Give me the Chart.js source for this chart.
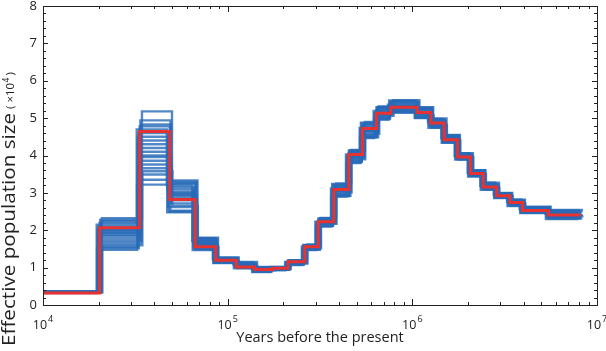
<!DOCTYPE html>
<html lang="en">
<head>
<meta charset="UTF-8">
<title>Effective population size</title>
<script src="https://cdn.jsdelivr.net/npm/chart.js"></script>
<style>
  html, body { margin: 0; padding: 0; background: #fff; }
  #wrap { width: 606px; height: 351px; position: relative; }
</style>
</head>
<body>
<div id="wrap"><canvas id="psmcChart"></canvas></div>
<script>
// step edges, years before present (first one lies left of the axis and gets clipped)
var stepEdges = [9000, 20240, 33340, 48500, 66650, 86100, 111400, 140000, 174700, 212100,
  261400, 309500, 375600, 453000, 537300, 639700, 764300, 1061000, 1259000, 1487000,
  1757000, 2066000, 2419000, 2860000, 3376000, 3954000, 5447000, 8166000];

// main estimate, Ne in units of 10^4
var mainNe = [0.32, 2.07, 4.64, 2.82, 1.56, 1.20, 1.02, 0.95, 0.98, 1.16, 1.56, 2.23, 3.09,
  4.03, 4.72, 5.13, 5.29, 5.15, 4.87, 4.42, 3.96, 3.52, 3.16, 2.92, 2.74, 2.53, 2.41];

// bootstrap replicates
var boot01 = [0.36, 2.32, 5.18, 3.33, 1.80, 1.27, 1.15, 1.02, 1.02, 1.20, 1.62, 2.33, 3.25, 4.15, 4.90, 5.31, 5.48, 5.29, 4.99, 4.55, 4.06, 3.61, 3.27, 3.00, 2.82, 2.63, 2.54];
var boot02 = [0.32, 1.48, 3.22, 2.48, 1.47, 1.12, 0.98, 0.88, 0.93, 1.07, 1.47, 2.10, 2.90, 3.80, 4.47, 4.96, 5.14, 5.00, 4.74, 4.34, 3.89, 3.44, 3.08, 2.86, 2.65, 2.46, 2.30];
var boot03 = [0.35, 2.28, 4.94, 3.30, 1.78, 1.25, 1.12, 0.99, 1.00, 1.18, 1.60, 2.30, 3.20, 4.12, 4.85, 5.28, 5.45, 5.26, 4.96, 4.52, 4.04, 3.59, 3.24, 2.98, 2.80, 2.61, 2.51];
var boot04 = [0.33, 1.52, 3.35, 2.50, 1.50, 1.14, 1.00, 0.90, 0.95, 1.09, 1.49, 2.13, 2.95, 3.84, 4.50, 5.00, 5.18, 5.03, 4.77, 4.36, 3.91, 3.46, 3.10, 2.88, 2.67, 2.48, 2.33];
var boot05 = [0.36, 2.24, 4.83, 3.27, 1.76, 1.24, 1.10, 0.98, 0.99, 1.17, 1.58, 2.27, 3.17, 4.09, 4.81, 5.25, 5.42, 5.24, 4.94, 4.50, 4.02, 3.57, 3.22, 2.97, 2.79, 2.60, 2.49];
var boot06 = [0.34, 1.56, 3.49, 2.62, 1.53, 1.15, 1.02, 0.92, 0.96, 1.10, 1.51, 2.15, 2.98, 3.87, 4.55, 5.03, 5.21, 5.05, 4.79, 4.38, 3.93, 3.48, 3.12, 2.89, 2.69, 2.50, 2.35];
var boot07 = [0.35, 2.20, 4.78, 3.24, 1.74, 1.23, 1.09, 0.97, 0.99, 1.16, 1.57, 2.25, 3.15, 4.06, 4.78, 5.22, 5.39, 5.21, 4.92, 4.48, 4.00, 3.55, 3.20, 2.95, 2.77, 2.58, 2.47];
var boot08 = [0.34, 1.60, 3.58, 2.66, 1.55, 1.16, 1.03, 0.93, 0.96, 1.11, 1.52, 2.17, 3.01, 3.90, 4.58, 5.06, 5.24, 5.07, 4.81, 4.40, 3.95, 3.50, 3.14, 2.91, 2.71, 2.52, 2.37];
var boot09 = [0.35, 2.15, 4.70, 3.20, 1.72, 1.22, 1.08, 0.96, 0.98, 1.15, 1.56, 2.23, 3.12, 4.03, 4.74, 5.19, 5.36, 5.18, 4.90, 4.47, 3.99, 3.54, 3.19, 2.94, 2.76, 2.57, 2.45];
var boot10 = [0.34, 1.66, 3.66, 2.72, 1.57, 1.17, 1.04, 0.94, 0.97, 1.12, 1.53, 2.19, 3.04, 3.93, 4.62, 5.09, 5.27, 5.10, 4.83, 4.42, 3.96, 3.51, 3.16, 2.92, 2.72, 2.53, 2.39];
var boot11 = [0.35, 2.10, 4.60, 3.16, 1.70, 1.21, 1.07, 0.96, 0.98, 1.14, 1.55, 2.22, 3.10, 4.00, 4.71, 5.16, 5.33, 5.16, 4.88, 4.46, 3.98, 3.53, 3.18, 2.93, 2.75, 2.56, 2.44];
var boot12 = [0.34, 1.72, 3.76, 2.80, 1.60, 1.18, 1.05, 0.94, 0.97, 1.13, 1.54, 2.20, 3.06, 3.96, 4.66, 5.12, 5.30, 5.12, 4.85, 4.44, 3.97, 3.52, 3.17, 2.93, 2.73, 2.54, 2.41];
var boot13 = [0.35, 2.04, 4.50, 3.10, 1.68, 1.20, 1.07, 0.95, 0.98, 1.14, 1.55, 2.21, 3.08, 3.98, 4.69, 5.14, 5.31, 5.14, 4.87, 4.45, 3.98, 3.52, 3.17, 2.93, 2.74, 2.55, 2.43];
var boot14 = [0.34, 1.78, 3.86, 2.86, 1.62, 1.19, 1.05, 0.95, 0.97, 1.13, 1.54, 2.20, 3.07, 3.97, 4.67, 5.13, 5.30, 5.13, 4.86, 4.44, 3.97, 3.52, 3.17, 2.93, 2.74, 2.54, 2.42];
var boot15 = [0.35, 1.98, 4.40, 3.04, 1.66, 1.20, 1.06, 0.95, 0.98, 1.13, 1.54, 2.21, 3.07, 3.97, 4.68, 5.14, 5.31, 5.14, 4.86, 4.44, 3.97, 3.52, 3.17, 2.93, 2.74, 2.55, 2.42];
var boot16 = [0.34, 1.84, 3.96, 2.92, 1.64, 1.26, 1.00, 1.01, 0.94, 1.19, 1.48, 2.32, 2.92, 4.14, 4.49, 5.30, 5.16, 5.28, 4.76, 4.54, 3.90, 3.60, 3.09, 2.99, 2.66, 2.62, 2.31];
var boot17 = [0.35, 1.92, 4.30, 2.98, 1.65, 1.13, 1.14, 0.89, 1.02, 1.08, 1.61, 2.11, 3.24, 3.81, 4.88, 4.97, 5.47, 5.01, 4.98, 4.35, 4.06, 3.45, 3.27, 2.87, 2.82, 2.47, 2.53];
var boot18 = [0.33, 1.88, 4.10, 2.52, 1.49, 1.24, 0.99, 0.99, 0.95, 1.18, 1.50, 2.28, 2.93, 4.10, 4.52, 5.26, 5.19, 5.25, 4.78, 4.52, 3.92, 3.58, 3.11, 2.98, 2.68, 2.60, 2.34];
var boot19 = [0.36, 2.00, 4.20, 3.00, 1.79, 1.14, 1.13, 0.90, 1.01, 1.09, 1.60, 2.12, 3.22, 3.83, 4.86, 4.99, 5.44, 5.02, 4.97, 4.36, 4.05, 3.46, 3.26, 2.88, 2.81, 2.48, 2.52];
var boot20 = [0.34, 1.94, 4.00, 2.94, 1.63, 1.26, 1.01, 1.00, 0.94, 1.19, 1.49, 2.31, 2.91, 4.13, 4.49, 5.29, 5.17, 5.27, 4.75, 4.53, 3.90, 3.59, 3.10, 2.99, 2.67, 2.61, 2.32];
var bootRuns = [boot01, boot02, boot03, boot04, boot05, boot06, boot07, boot08, boot09, boot10,
  boot11, boot12, boot13, boot14, boot15, boot16, boot17, boot18, boot19, boot20];
// time scaling of each replicate
var bootTimeScale = [1.03, 0.97, 1.01, 0.99, 1.02, 0.98, 1.00, 1.035, 0.965, 1.015,
  0.985, 1.025, 0.975, 1.005, 0.995, 1.02, 0.98, 1.01, 0.99, 1.00];

var yTickValues = [0, 1, 2, 3, 4, 5, 6, 7, 8];
var yMinorValues = [0.2, 0.4, 0.6, 0.8, 1.2, 1.4, 1.6, 1.8, 2.2, 2.4, 2.6, 2.8, 3.2, 3.4, 3.6, 3.8,
  4.2, 4.4, 4.6, 4.8, 5.2, 5.4, 5.6, 5.8, 6.2, 6.4, 6.6, 6.8, 7.2, 7.4, 7.6, 7.8];
var xDecades = [1e4, 1e5, 1e6, 1e7];
var xDecadeExp = ['4', '5', '6', '7'];
var xMinorValues = [2e4, 3e4, 4e4, 5e4, 6e4, 7e4, 8e4, 9e4, 2e5, 3e5, 4e5, 5e5, 6e5, 7e5, 8e5, 9e5,
  2e6, 3e6, 4e6, 5e6, 6e6, 7e6, 8e6, 9e6];

var FONT = '"Open Sans", Lato, sans-serif';

function stepPoints(values, scale) {
  var pts = values.map(function (v, i) { return { x: stepEdges[i] * scale, y: v }; });
  pts.push({ x: stepEdges[values.length] * scale, y: values[values.length - 1] });
  return pts;
}

var datasets = [{
  data: stepPoints(mainNe, 1),
  borderColor: '#e8322f',
  borderWidth: 3,
  order: 0
}];
bootRuns.forEach(function (run, k) {
  datasets.push({
    data: stepPoints(run, bootTimeScale[k]),
    borderColor: 'rgba(40, 106, 184, 0.8)',
    borderWidth: 2.4,
    order: 1
  });
});

// frame, inward ticks and axis texts
var framePlugin = {
  id: 'frame',
  afterDraw: function (chart) {
    var ctx = chart.ctx, a = chart.chartArea;
    var xs = chart.scales.x, ys = chart.scales.y;
    ctx.save();
    ctx.strokeStyle = '#222';
    ctx.lineWidth = 1;
    ctx.strokeRect(Math.round(a.left) + 0.5, Math.round(a.top) + 0.5,
      Math.round(a.right - a.left), Math.round(a.bottom - a.top));

    function xTick(v, len) {
      var px = Math.round(xs.getPixelForValue(v)) + 0.5;
      ctx.beginPath();
      ctx.moveTo(px, a.bottom); ctx.lineTo(px, a.bottom - len);
      ctx.moveTo(px, a.top); ctx.lineTo(px, a.top + len);
      ctx.stroke();
    }
    function yTick(v, len) {
      var py = Math.round(ys.getPixelForValue(v)) + 0.5;
      ctx.beginPath();
      ctx.moveTo(a.left, py); ctx.lineTo(a.left + len, py);
      ctx.moveTo(a.right, py); ctx.lineTo(a.right - len, py);
      ctx.stroke();
    }
    xDecades.forEach(function (v) { xTick(v, 6); });
    xMinorValues.forEach(function (v) { xTick(v, 3); });
    yTickValues.forEach(function (v) { yTick(v, 5); });
    yMinorValues.forEach(function (v) { yTick(v, 3); });

    ctx.fillStyle = '#222';
    ctx.textBaseline = 'middle';
    ctx.textAlign = 'right';
    ctx.font = '13px ' + FONT;
    yTickValues.forEach(function (v) {
      ctx.fillText(String(v), a.left - 6, ys.getPixelForValue(v));
    });

    // decade labels, "10" with a raised exponent, centred as a group under the tick
    ctx.textBaseline = 'alphabetic';
    ctx.textAlign = 'left';
    xDecades.forEach(function (v, i) {
      var px = xs.getPixelForValue(v);
      ctx.font = '12.5px ' + FONT;
      var w = ctx.measureText('10').width;
      ctx.font = '9px ' + FONT;
      var we = ctx.measureText(xDecadeExp[i]).width;
      var x0 = px - (w + we + 1) / 2;
      ctx.font = '12.5px ' + FONT;
      ctx.fillText('10', x0, a.bottom + 24);
      ctx.font = '9px ' + FONT;
      ctx.fillText(xDecadeExp[i], x0 + w + 1, a.bottom + 17);
    });

    ctx.font = '14.5px ' + FONT;
    ctx.textAlign = 'center';
    ctx.fillText('Years before the present', (a.left + a.right) / 2, a.bottom + 37);

    // y title, rotated
    ctx.translate(15, 346);
    ctx.rotate(-Math.PI / 2);
    ctx.textAlign = 'left';
    ctx.font = '17.5px ' + FONT;
    var main = 'Effective population size';
    var mw = ctx.measureText(main).width;
    var stretch = 233 / mw;
    ctx.save();
    ctx.scale(stretch, 1);
    ctx.fillText(main, 0, 0);
    ctx.restore();
    var cx = 233 + 4;
    ctx.font = '11.5px ' + FONT;
    ctx.fillText('( \u00d710', cx, -1);
    cx += ctx.measureText('( \u00d710').width;
    ctx.font = '8.5px ' + FONT;
    ctx.fillText('4', cx + 0.5, -6.5);
    cx += ctx.measureText('4').width + 2.5;
    ctx.font = '11.5px ' + FONT;
    ctx.fillText(')', cx, -1);
    ctx.restore();
  }
};

new Chart(document.getElementById('psmcChart'), {
  type: 'line',
  data: { datasets: datasets },
  options: {
    responsive: true,
    maintainAspectRatio: false,
    animation: false,
    layout: { padding: { left: 43, right: 9, top: 6, bottom: 46 } },
    elements: {
      line: { stepped: 'before', fill: false, tension: 0 },
      point: { radius: 0, hoverRadius: 0 }
    },
    datasets: { line: { clip: 0 } },
    plugins: { legend: { display: false }, tooltip: { enabled: false } },
    scales: {
      x: { type: 'logarithmic', min: 1e4, max: 1e7, display: false },
      y: { type: 'linear', min: 0, max: 8, display: false }
    }
  },
  plugins: [framePlugin]
});
</script>
</body>
</html>
